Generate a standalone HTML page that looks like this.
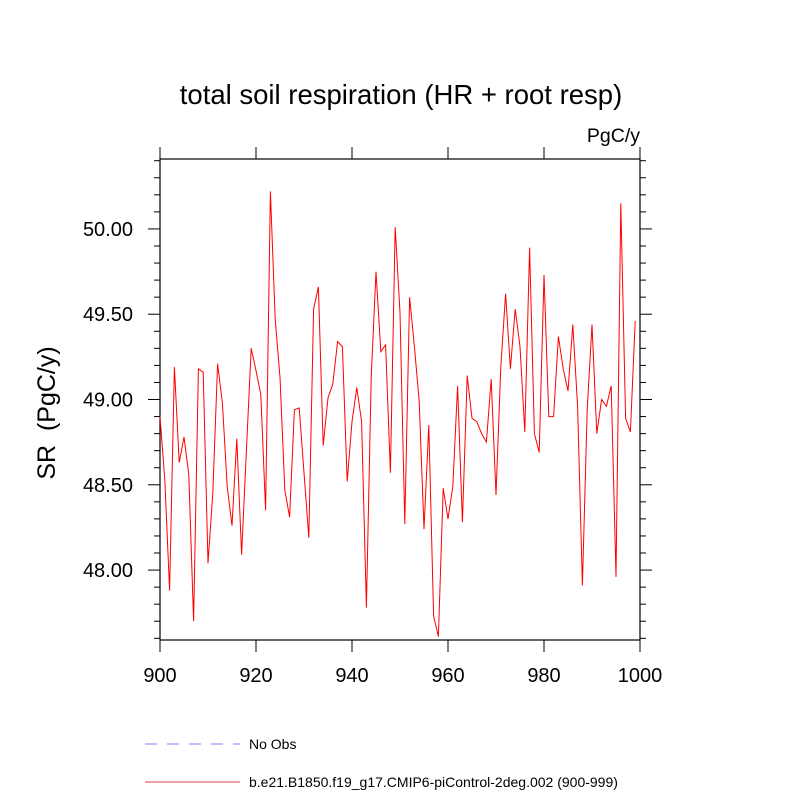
<!DOCTYPE html>
<html><head><meta charset="utf-8"><style>
body{margin:0;background:#fff;}
svg{display:block;font-family:"Liberation Sans",sans-serif;}
</style></head><body>
<svg id="chart" width="800" height="800">
<text x="401" y="104" font-size="27.5" text-anchor="middle">total soil respiration (HR + root resp)</text>
<text x="640" y="142" font-size="19.5" text-anchor="end">PgC/y</text>
<text transform="translate(55,413) rotate(-90)" font-size="25" text-anchor="middle" xml:space="preserve">SR  (PgC/y)</text>
<g id="axes"></g>
<g id="series"></g>
<g>
<line x1="145" y1="744" x2="240" y2="744" stroke="#8080ff" stroke-width="1" stroke-dasharray="12,10"/>
<text x="249" y="749" font-size="14">No Obs</text>
<line x1="145" y1="782" x2="240" y2="782" stroke="#e04040" stroke-width="1"/>
<text x="249" y="787" font-size="14">b.e21.B1850.f19_g17.CMIP6-piControl-2deg.002 (900-999)</text>
</g>
</svg>
<script>
const years = Array.from({length:100},(_,i)=>900+i);
const values = [48.90,48.53,47.88,49.19,48.63,48.78,48.56,47.70,49.18,49.16,
48.04,48.45,49.21,48.98,48.49,48.26,48.77,48.09,48.70,49.30,
49.17,49.03,48.35,50.22,49.47,49.13,48.47,48.31,48.94,48.95,
48.57,48.19,49.53,49.66,48.73,49.01,49.09,49.34,49.31,48.52,
48.87,49.07,48.87,47.78,49.13,49.75,49.28,49.32,48.57,50.01,
49.51,48.27,49.60,49.31,48.99,48.24,48.85,47.73,47.61,48.48,
48.30,48.49,49.08,48.28,49.14,48.89,48.87,48.80,48.75,49.12,
48.44,49.19,49.62,49.18,49.53,49.31,48.81,49.89,48.80,48.69,
49.73,48.90,48.90,49.37,49.18,49.05,49.44,48.96,47.91,48.94,
49.44,48.80,49.00,48.96,49.08,47.96,50.15,48.89,48.81,49.46];
const xTicks = [900,920,940,960,980,1000];
const yTicks = [48.0,48.5,49.0,49.5,50.0];
const yTickLabels = ["48.00","48.50","49.00","49.50","50.00"];
const X0=160,X1=640,Y0=159,Y1=640;
const xMin=900,xMax=1000,yMin=47.59,yMax=50.41;
const xs=v=>X0+(v-xMin)/(xMax-xMin)*(X1-X0);
const ys=v=>Y1-(v-yMin)/(yMax-yMin)*(Y1-Y0);
const NS="http://www.w3.org/2000/svg";
const axes=document.getElementById('axes');
function mk(tag,attrs,parent){const e=document.createElementNS(NS,tag);for(const k in attrs)e.setAttribute(k,attrs[k]);parent.appendChild(e);return e;}
const frame=mk('rect',{x:X0,y:Y0,width:X1-X0,height:Y1-Y0,fill:'none',stroke:'#000','stroke-width':1.2},axes);


xTicks.forEach(t=>{
  const x=xs(t);
  const a=mk('line',{x1:x,y1:Y1,x2:x,y2:Y1+12,stroke:'#000'},axes);
  
  
  const b=mk('line',{x1:x,y1:Y0,x2:x,y2:Y0-12,stroke:'#000'},axes);
  
  
  const l=mk('text',{x:x,y:Y1+42,'font-size':20,'text-anchor':'middle'},axes);
  l.textContent=t;
  
  
});
for(let k=476;k<=504;k++){
  const v=k/10;
  const y=ys(v);
  const major=(k%5===0);
  const len=major?12:6;
  const a=mk('line',{x1:X0,y1:y,x2:X0-len,y2:y,stroke:'#000'},axes);
  
  
  const b=mk('line',{x1:X1,y1:y,x2:X1+len,y2:y,stroke:'#000'},axes);
  
  
}
yTicks.forEach((t,i)=>{
  const l=mk('text',{x:X0-27,y:ys(t)+7,'font-size':20,'text-anchor':'end'},axes);
  l.textContent=yTickLabels[i];
  
  
});
const pts=values.map((v,i)=>xs(years[i]).toFixed(1)+','+ys(v).toFixed(1)).join(' ');
const line=mk('polyline',{points:pts,fill:'none',stroke:'#ff0000','stroke-width':1},document.getElementById('series'));


</script>
</body></html>
